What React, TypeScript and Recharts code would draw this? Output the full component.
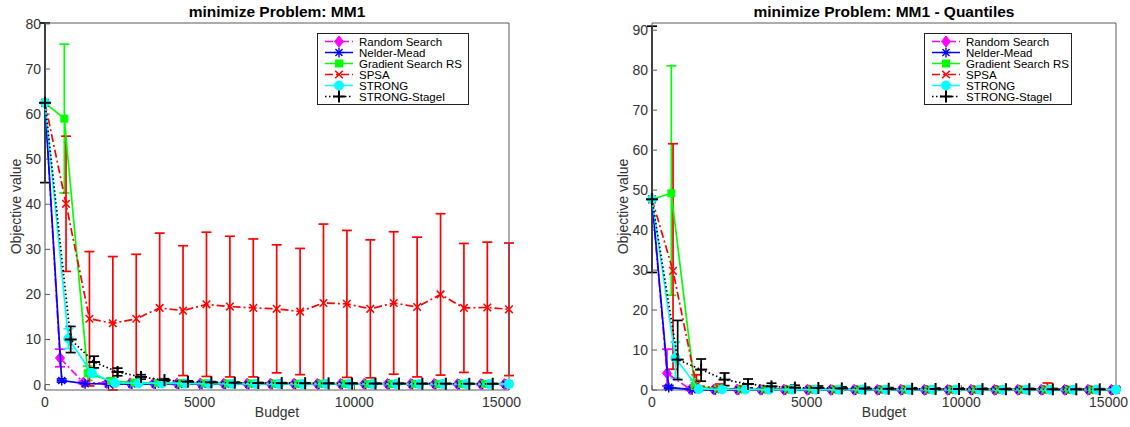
import React from 'react';
import { ScatterChart, Scatter, XAxis, YAxis, ErrorBar, Legend, Label } from 'recharts';

const FONT = '"Liberation Sans", Arial, Helvetica, sans-serif';
const AXIS = '#5a5a5a';
const TEXT = '#333333';

// ---------- budgets (x positions of each algorithm's records)
const rsBudget = [0, 485, 1241, 1997, 2753, 3509, 4265, 5021, 5777, 6533, 7289, 8045, 8801, 9557, 10313, 11069, 11825, 12581, 13337, 14093, 14849];
const nmBudget = [0, 540, 1296, 2052, 2808, 3564, 4320, 5076, 5832, 6588, 7344, 8100, 8856, 9612, 10368, 11124, 11880, 12636, 13392, 14148, 14904];
const gsBudget = [0, 625, 1381, 2137, 2893, 3649, 4405, 5161, 5917, 6673, 7429, 8185, 8941, 9697, 10453, 11209, 11965, 12721, 13477, 14233, 14989];
const spBudget = [0, 680, 1436, 2193, 2950, 3707, 4463, 5220, 5977, 6733, 7490, 8247, 9003, 9760, 10517, 11273, 12030, 12787, 13543, 14300, 15000];
const stBudget = [0, 755, 1511, 2268, 3025, 3782, 4538, 5295, 6052, 6808, 7565, 8322, 9078, 9835, 10592, 11348, 12105, 12862, 13618, 14375, 15000];
const s1Budget = [0, 830, 1588, 2346, 3104, 3862, 4620, 5378, 6136, 6894, 7652, 8410, 9168, 9926, 10684, 11442, 12200, 12958, 13716, 14474];

// ---------- left panel: means and error half-widths
const rsMean = [62.5, 5.9, 0.45, 0.35, 0.3, 0.3, 0.25, 0.25, 0.2, 0.2, 0.2, 0.2, 0.15, 0.15, 0.15, 0.15, 0.15, 0.15, 0.1, 0.1, 0.1];
const rsErr = [0, 1.95, 0.3, 0.25, 0.2, 0.2, 0.2, 0.15, 0.15, 0.15, 0.15, 0.15, 0.1, 0.1, 0.1, 0.1, 0.1, 0.1, 0.1, 0.1, 0.1];
const nmMean = [62.5, 0.9, 0.2, 0.15, 0.12, 0.11, 0.1, 0.1, 0.1, 0.09, 0.09, 0.09, 0.09, 0.08, 0.08, 0.08, 0.08, 0.08, 0.08, 0.08, 0.08];
const nmErr = [0, 0.35, 0.1, 0.06, 0.05, 0.04, 0.04, 0.03, 0.03, 0.03, 0.03, 0.03, 0.03, 0.03, 0.03, 0.03, 0.03, 0.03, 0.03, 0.03, 0.03];
const gsMean = [62.5, 59.0, 2.5, 0.8, 0.45, 0.35, 0.3, 0.28, 0.25, 0.24, 0.22, 0.2, 0.2, 0.19, 0.18, 0.17, 0.17, 0.16, 0.15, 0.15, 0.14];
const gsErr = [0, 16.5, 1.6, 0.5, 0.3, 0.2, 0.2, 0.15, 0.15, 0.15, 0.12, 0.12, 0.12, 0.1, 0.1, 0.1, 0.1, 0.1, 0.1, 0.1, 0.1];
const spMean = [62.5, 40.1, 14.6, 13.6, 14.6, 17.0, 16.4, 17.8, 17.3, 17.0, 16.8, 16.2, 18.1, 17.9, 16.8, 18.1, 17.2, 20.0, 17.0, 17.1, 16.7];
const spErr = [0, 15.0, 14.9, 14.8, 14.3, 16.6, 14.4, 16.0, 15.6, 15.3, 14.2, 14.0, 17.5, 16.3, 15.3, 15.8, 15.5, 17.9, 14.3, 14.5, 14.7];
const stMean = [62.5, 10.2, 2.6, 0.35, 0.28, 0.25, 0.22, 0.2, 0.18, 0.17, 0.16, 0.15, 0.15, 0.14, 0.13, 0.13, 0.12, 0.12, 0.12, 0.11, 0.11];
const stErr = [0, 2.2, 0.9, 0.2, 0.15, 0.12, 0.1, 0.1, 0.1, 0.1, 0.08, 0.08, 0.08, 0.08, 0.08, 0.08, 0.08, 0.08, 0.08, 0.08, 0.08];
const s1Mean = [62.5, 10.0, 5.0, 2.8, 1.7, 1.0, 0.65, 0.5, 0.42, 0.36, 0.32, 0.3, 0.27, 0.25, 0.23, 0.22, 0.2, 0.19, 0.18, 0.17];
const s1Err = [17.7, 2.9, 1.3, 0.85, 0.5, 0.3, 0.2, 0.15, 0.12, 0.1, 0.1, 0.09, 0.08, 0.08, 0.07, 0.07, 0.06, 0.06, 0.06, 0.06];

// ---------- right panel: medians and quantile bounds
const rsMed = [47.7, 4.2, 0.15, 0.1, 0.1, 0.08, 0.08, 0.07, 0.07, 0.06, 0.06, 0.06, 0.05, 0.05, 0.05, 0.05, 0.05, 0.04, 0.04, 0.04, 0.04];
const rsLo = [47.7, 1.0, 0.02, 0.02, 0.02, 0.01, 0.01, 0.01, 0.01, 0.01, 0.01, 0.01, 0.01, 0.01, 0.01, 0.01, 0.01, 0.01, 0.01, 0.01, 0.01];
const rsHi = [47.7, 10.2, 0.45, 0.3, 0.3, 0.25, 0.25, 0.2, 0.2, 0.2, 0.2, 0.2, 0.18, 0.18, 0.18, 0.18, 0.18, 0.15, 0.15, 0.15, 0.15];
const nmMed = [47.7, 0.65, 0.08, 0.05, 0.05, 0.04, 0.04, 0.04, 0.04, 0.03, 0.03, 0.03, 0.03, 0.03, 0.03, 0.03, 0.03, 0.03, 0.03, 0.03, 0.03];
const nmLo = [47.7, 0.3, 0.01, 0.01, 0.01, 0.01, 0.01, 0.01, 0.01, 0.01, 0.01, 0.01, 0.01, 0.01, 0.01, 0.01, 0.01, 0.01, 0.01, 0.01, 0.01];
const nmHi = [47.7, 1.1, 0.2, 0.12, 0.1, 0.1, 0.1, 0.08, 0.08, 0.08, 0.08, 0.08, 0.08, 0.08, 0.08, 0.08, 0.08, 0.08, 0.08, 0.08, 0.08];
const gsMed = [47.7, 49.2, 1.0, 0.3, 0.2, 0.18, 0.15, 0.15, 0.14, 0.13, 0.12, 0.12, 0.12, 0.11, 0.11, 0.1, 0.1, 0.1, 0.1, 0.1, 0.1];
const gsLo = [47.7, 23.7, 0.2, 0.05, 0.04, 0.03, 0.03, 0.03, 0.03, 0.03, 0.03, 0.03, 0.03, 0.03, 0.03, 0.03, 0.03, 0.03, 0.03, 0.03, 0.03];
const gsHi = [47.7, 81.1, 2.5, 0.8, 0.5, 0.4, 0.4, 0.35, 0.35, 0.35, 0.3, 0.3, 0.3, 0.3, 0.3, 0.3, 0.3, 0.3, 0.3, 0.3, 0.3];
const spMed = [47.7, 29.8, 1.2, 0.3, 0.25, 0.22, 0.2, 0.2, 0.18, 0.18, 0.17, 0.17, 0.16, 0.16, 0.15, 0.15, 0.15, 0.15, 0.14, 0.14, 0.14];
const spLo = [47.7, 5.2, 0.1, 0.03, 0.03, 0.03, 0.03, 0.03, 0.03, 0.03, 0.03, 0.03, 0.03, 0.03, 0.03, 0.03, 0.03, 0.03, 0.03, 0.03, 0.03];
const spHi = [47.7, 61.6, 3.8, 1.5, 1.0, 0.9, 0.8, 0.8, 0.7, 0.7, 0.7, 0.7, 0.7, 0.7, 0.7, 0.7, 0.7, 1.75, 0.7, 0.7, 0.7];
const stMed = [47.7, 8.0, 0.25, 0.15, 0.12, 0.1, 0.1, 0.1, 0.09, 0.09, 0.08, 0.08, 0.08, 0.08, 0.07, 0.07, 0.07, 0.07, 0.07, 0.07, 0.07];
const stLo = [47.7, 3.0, 0.05, 0.03, 0.03, 0.02, 0.02, 0.02, 0.02, 0.02, 0.02, 0.02, 0.02, 0.02, 0.02, 0.02, 0.02, 0.02, 0.02, 0.02, 0.02];
const stHi = [47.7, 12.0, 0.6, 0.4, 0.3, 0.3, 0.25, 0.25, 0.25, 0.2, 0.2, 0.2, 0.2, 0.2, 0.2, 0.2, 0.2, 0.2, 0.2, 0.2, 0.2];
const s1Med = [47.7, 7.6, 5.1, 2.6, 1.5, 0.9, 0.6, 0.5, 0.4, 0.35, 0.3, 0.3, 0.25, 0.25, 0.22, 0.2, 0.2, 0.18, 0.18, 0.16];
const s1Lo = [29.4, 2.6, 2.2, 1.1, 0.5, 0.35, 0.25, 0.2, 0.15, 0.12, 0.1, 0.1, 0.08, 0.08, 0.07, 0.06, 0.06, 0.05, 0.05, 0.05];
const s1Hi = [91.0, 17.4, 7.75, 4.25, 2.75, 1.7, 1.2, 1.0, 0.8, 0.7, 0.6, 0.55, 0.5, 0.5, 0.45, 0.4, 0.4, 0.38, 0.35, 0.33];

// ---------- labels / ticks
const seriesNames = ['Random Search', 'Nelder-Mead', 'Gradient Search RS', 'SPSA', 'STRONG', 'STRONG-StageI'];
const xTicks = [0, 5000, 10000, 15000];
const yTicksLeft = [0, 10, 20, 30, 40, 50, 60, 70, 80];
const yTicksRight = [0, 10, 20, 30, 40, 50, 60, 70, 80, 90];
const leftTitle = 'minimize Problem: MM1';
const rightTitle = 'minimize Problem: MM1 - Quantiles';
const xLabel = 'Budget';
const yLabel = 'Objective value';

type Pt = { x: number; y: number; e: [number, number] };

const symPts = (xs: number[], ys: number[], es: number[]): Pt[] =>
  xs.map((x, i) => ({ x, y: ys[i], e: [es[i], es[i]] }));
const qPts = (xs: number[], ys: number[], lo: number[], hi: number[]): Pt[] =>
  xs.map((x, i) => ({ x, y: ys[i], e: [ys[i] - lo[i], hi[i] - ys[i]] }));

const styles = [
  { color: '#ff00ff', dash: '8 3 2 3', marker: 'diamond' },
  { color: '#0000ff', dash: undefined, marker: 'star' },
  { color: '#00ff00', dash: undefined, marker: 'square' },
  { color: '#ff0000', dash: '8 3 2 3', marker: 'x' },
  { color: '#00ffff', dash: undefined, marker: 'circle' },
  { color: '#000000', dash: '1.5 2.5', marker: 'plus' },
];

const leftData = [
  symPts(rsBudget, rsMean, rsErr),
  symPts(nmBudget, nmMean, nmErr),
  symPts(gsBudget, gsMean, gsErr),
  symPts(spBudget, spMean, spErr),
  symPts(stBudget, stMean, stErr),
  symPts(s1Budget, s1Mean, s1Err),
];
const rightData = [
  qPts(rsBudget, rsMed, rsLo, rsHi),
  qPts(nmBudget, nmMed, nmLo, nmHi),
  qPts(gsBudget, gsMed, gsLo, gsHi),
  qPts(spBudget, spMed, spLo, spHi),
  qPts(stBudget, stMed, stLo, stHi),
  qPts(s1Budget, s1Med, s1Lo, s1Hi),
];

function Glyph({ kind, cx, cy, color }: { kind: string; cx: number; cy: number; color: string }) {
  if (cx == null || cy == null || isNaN(cx) || isNaN(cy)) return <g />;
  switch (kind) {
    case 'diamond':
      return <path d={`M${cx} ${cy - 5.5}L${cx + 4.5} ${cy}L${cx} ${cy + 5.5}L${cx - 4.5} ${cy}Z`} fill={color} stroke={color} strokeWidth={1} />;
    case 'star': {
      const r = 5;
      const d = r * 0.707;
      return (
        <g stroke={color} strokeWidth={1.4}>
          <line x1={cx - r} y1={cy} x2={cx + r} y2={cy} />
          <line x1={cx} y1={cy - r} x2={cx} y2={cy + r} />
          <line x1={cx - d} y1={cy - d} x2={cx + d} y2={cy + d} />
          <line x1={cx - d} y1={cy + d} x2={cx + d} y2={cy - d} />
        </g>
      );
    }
    case 'square':
      return <rect x={cx - 3.5} y={cy - 3.5} width={7} height={7} fill={color} stroke={color} />;
    case 'x': {
      const r = 3.8;
      return (
        <g stroke={color} strokeWidth={1.5}>
          <line x1={cx - r} y1={cy - r} x2={cx + r} y2={cy + r} />
          <line x1={cx - r} y1={cy + r} x2={cx + r} y2={cy - r} />
        </g>
      );
    }
    case 'circle':
      return <circle cx={cx} cy={cy} r={4.5} fill={color} stroke={color} />;
    case 'plus': {
      const r = 6;
      return (
        <g stroke={color} strokeWidth={2}>
          <line x1={cx - r} y1={cy} x2={cx + r} y2={cy} />
          <line x1={cx} y1={cy - r} x2={cx} y2={cy + r} />
        </g>
      );
    }
    default:
      return <g />;
  }
}

function LegendBox({ w }: { w: number }) {
  const h = 72;
  return (
    <svg width={w} height={h} style={{ display: 'block' }}>
      <rect x={0.5} y={0.5} width={w - 1} height={h - 1} fill="#ffffff" stroke="#222" strokeWidth={1} />
      {seriesNames.map((name, i) => {
        const cy = 8.5 + i * 11;
        const s = styles[i];
        return (
          <g key={name}>
            <line x1={8} y1={cy} x2={36} y2={cy} stroke={s.color} strokeWidth={1.5} strokeDasharray={s.dash} />
            <Glyph kind={s.marker} cx={22} cy={cy} color={s.color} />
            <text x={42} y={cy + 4} fontSize={11.5} fontFamily={FONT} fill="#000">{name}</text>
          </g>
        );
      })}
    </svg>
  );
}

function XTick(props: any) {
  const { x, y, payload } = props;
  const last = payload.value === 15000;
  return (
    <text
      x={last ? x + 12 : x}
      y={y}
      dy={10}
      textAnchor={last ? 'end' : 'middle'}
      fontSize={14}
      fontFamily={FONT}
      fill={TEXT}
    >
      {payload.value}
    </text>
  );
}

function Panel({ title, data, yDomain, yTicks, marginLeft, marginRight, legendLeft, legendWidth }: any) {
  const titleContent = (props: any) => {
    const vb = props.viewBox || {};
    return (
      <text x={vb.x + vb.width / 2} y={vb.y - 5} textAnchor="middle" fontSize={15.5} fontWeight="bold" fontFamily={FONT} fill="#000">
        {title}
      </text>
    );
  };
  const xLabelContent = (props: any) => {
    const vb = props.viewBox || {};
    return (
      <text x={vb.x + vb.width / 2} y={vb.y + 27} textAnchor="middle" fontSize={14} fontFamily={FONT} fill={TEXT}>
        {xLabel}
      </text>
    );
  };
  const yLabelContent = (props: any) => {
    const vb = props.viewBox || {};
    const x = vb.x + vb.width - 24;
    const y = vb.y + vb.height / 2;
    return (
      <text x={x} y={y} transform={`rotate(-90, ${x}, ${y})`} textAnchor="middle" fontSize={14} fontFamily={FONT} fill={TEXT}>
        {yLabel}
      </text>
    );
  };
  const tickStyle = { fill: TEXT, fontSize: 14, fontFamily: FONT };
  return (
    <ScatterChart width={565} height={427} margin={{ top: 22, right: marginRight, bottom: 0, left: marginLeft }}>
      <XAxis
        xAxisId="b"
        type="number"
        dataKey="x"
        orientation="bottom"
        domain={[0, 15000]}
        ticks={xTicks}
        interval={0}
        height={37}
        tickSize={-5}
        tickMargin={12}
        axisLine={{ stroke: AXIS }}
        tickLine={{ stroke: AXIS }}
        tick={<XTick />}
      >
        <Label content={xLabelContent} />
      </XAxis>
      <XAxis
        xAxisId="t"
        type="number"
        dataKey="x"
        orientation="top"
        domain={[0, 15000]}
        ticks={xTicks}
        interval={0}
        height={1}
        tickSize={-5}
        axisLine={{ stroke: AXIS }}
        tickLine={{ stroke: AXIS }}
        tick={false}
      >
        <Label content={titleContent} />
      </XAxis>
      <YAxis
        yAxisId="l"
        type="number"
        dataKey="y"
        orientation="left"
        domain={yDomain}
        ticks={yTicks}
        interval={0}
        width={45}
        tickSize={-5}
        tickMargin={9}
        axisLine={{ stroke: AXIS }}
        tickLine={{ stroke: AXIS }}
        tick={tickStyle}
      >
        <Label content={yLabelContent} />
      </YAxis>
      <YAxis
        yAxisId="r"
        type="number"
        dataKey="y"
        orientation="right"
        domain={yDomain}
        ticks={yTicks}
        interval={0}
        width={1}
        tickSize={-5}
        axisLine={{ stroke: AXIS }}
        tickLine={{ stroke: AXIS }}
        tick={false}
      />
      {data.map((pts: Pt[], i: number) => {
        const s = styles[i];
        return (
          <Scatter
            key={seriesNames[i]}
            name={seriesNames[i]}
            data={pts}
            xAxisId="b"
            yAxisId="l"
            isAnimationActive={false}
            line={{ stroke: s.color, strokeWidth: 1.7, strokeDasharray: s.dash }}
            lineType="joint"
            shape={(p: any) => <Glyph kind={s.marker} cx={p.cx} cy={p.cy} color={s.color} />}
          >
            <ErrorBar dataKey="e" direction="y" width={5} stroke={s.color} strokeWidth={1.7} isAnimationActive={false} />
          </Scatter>
        );
      })}
      <Legend
        layout="vertical"
        align="center"
        verticalAlign="middle"
        content={() => <LegendBox w={legendWidth} />}
        wrapperStyle={{ left: legendLeft, top: 33, width: legendWidth, height: 72 }}
      />
    </ScatterChart>
  );
}

export default function App() {
  return (
    <div style={{ position: 'absolute', left: 0, top: 0, width: 1130, height: 427, background: '#fff' }}>
      <div style={{ position: 'absolute', left: 0, top: 0 }}>
        <Panel title={leftTitle} data={leftData} yDomain={[-1.2, 80.2]} yTicks={yTicksLeft} marginLeft={0} marginRight={55} legendLeft={317} legendWidth={152} />
      </div>
      <div style={{ position: 'absolute', left: 565, top: 0 }}>
        <Panel title={rightTitle} data={rightData} yDomain={[0, 91.8]} yTicks={yTicksRight} marginLeft={42} marginRight={13} legendLeft={359} legendWidth={148} />
      </div>
    </div>
  );
}
